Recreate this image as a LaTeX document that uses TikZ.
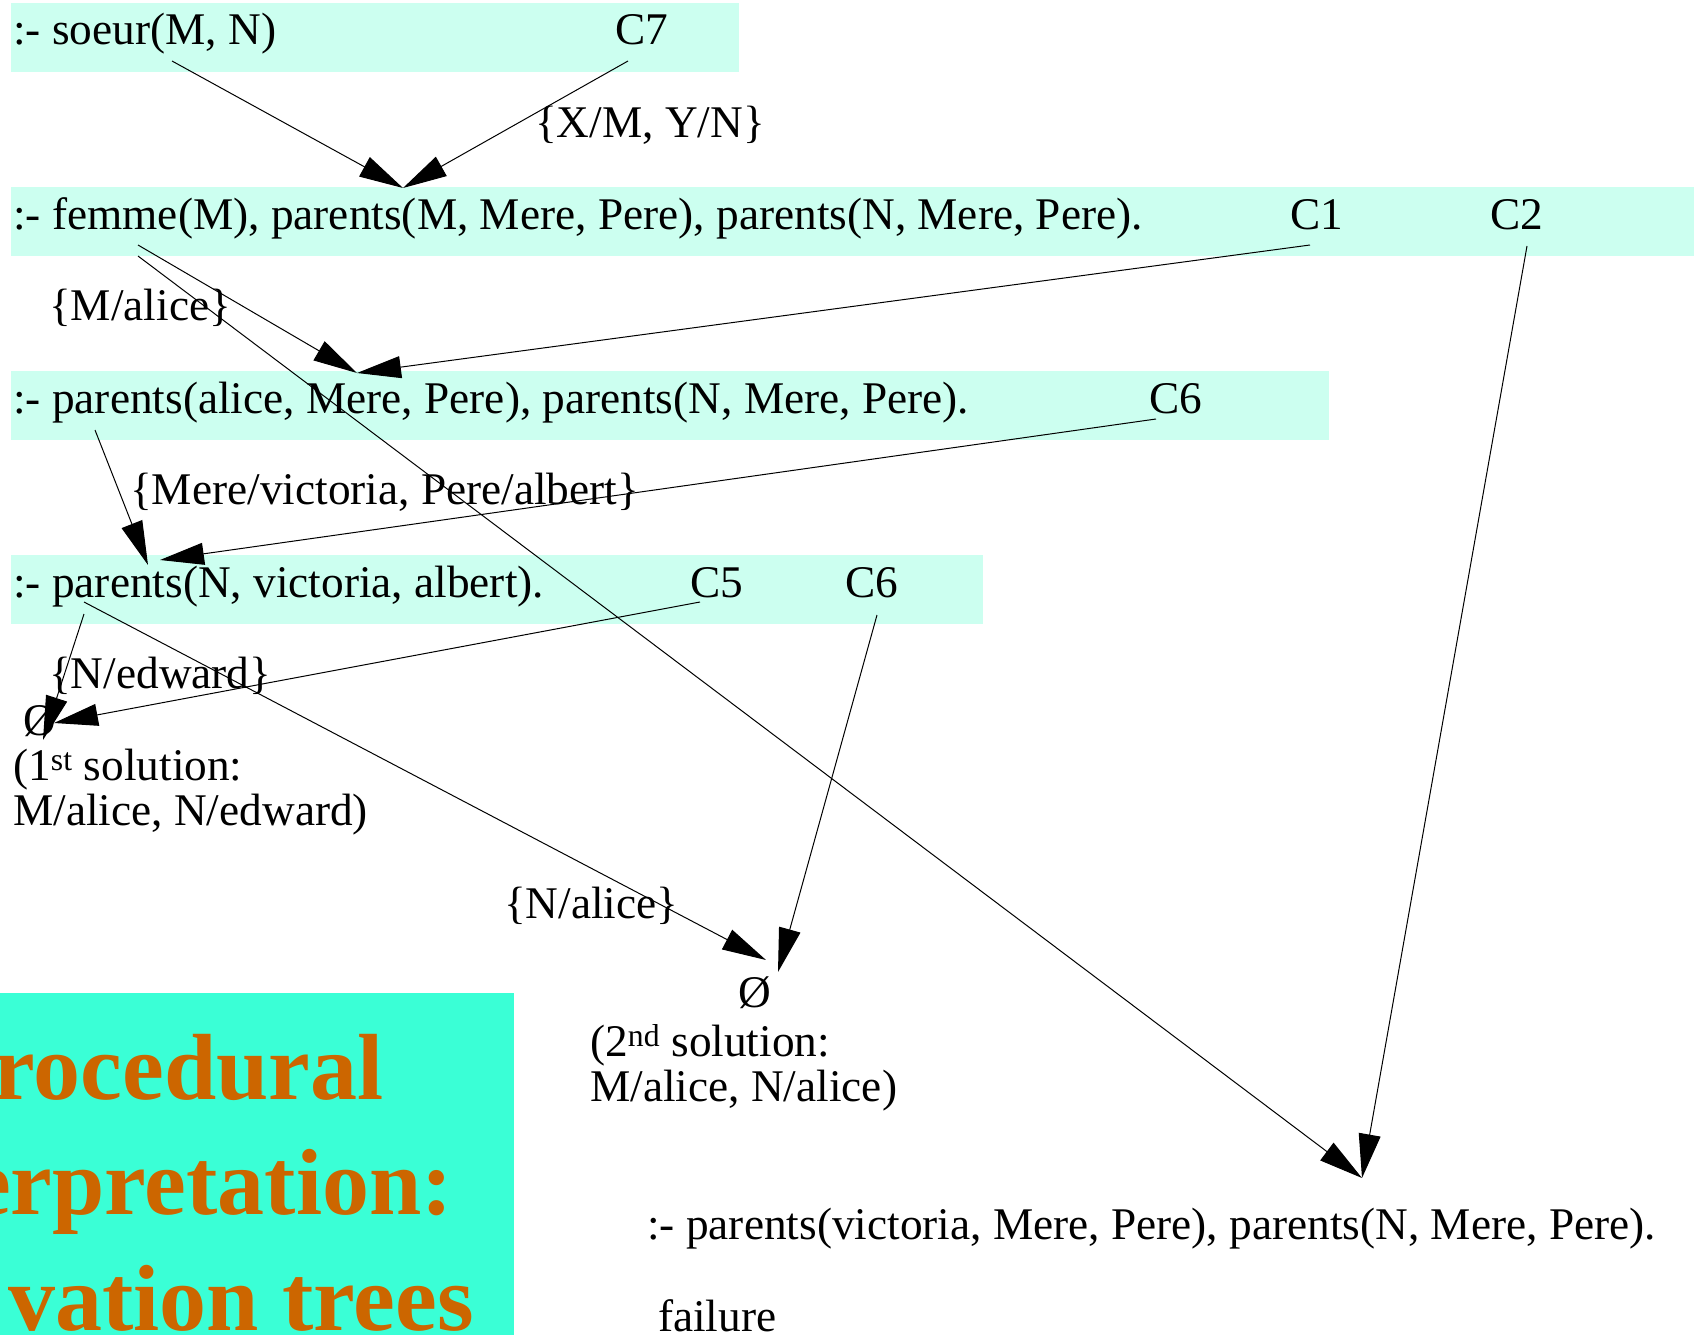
\documentclass[tikz,border=0pt]{standalone}
\usepackage{fontspec}
\setmainfont{Liberation Serif}
\usetikzlibrary{arrows.meta}
\tikzset{>={Triangle[length=44pt,width=22pt]}}
\definecolor{goalcyan}{RGB}{204,255,240}
\definecolor{titlecyan}{RGB}{58,255,214}
\definecolor{titleorange}{RGB}{204,102,0}

\begin{document}
\begin{tikzpicture}[x=1pt,y=-1pt,
  txt/.style={anchor=base west,inner sep=0pt,font=\fontsize{45.3}{45}\selectfont},
  ttl/.style={anchor=base east,inner sep=0pt,text=titleorange,font=\fontsize{94}{94}\selectfont\bfseries}]
\useasboundingbox (0,0) rectangle (1697,1335);
\foreach \y/\w in {3/739,187/1694,371/1329,555/983}
\fill[goalcyan] (11,\y) rectangle (\w,\y+69);
\fill[titlecyan] (0,993) rectangle (514,1335);
\node[txt] (g1) at (13,45) {:- soeur(M, N)};
\node[txt] (c7) at (615,45) {C7};
\node[txt] (g2) at (13,229) {:- femme(M), parents(M, Mere, Pere), parents(N, Mere, Pere).};
\node[txt] (c1) at (1290,229) {C1};
\node[txt] (c2) at (1490,229) {C2};
\node[txt] (g3) at (13,413) {:- parents(alice, Mere, Pere), parents(N, Mere, Pere).};
\node[txt] (c6a) at (1149,413) {C6};
\node[txt] (g4) at (13,597) {:- parents(N, victoria, albert).};
\node[txt] (c5) at (690,597) {C5};
\node[txt] (c6b) at (845,597) {C6};
\node[txt] (l1) at (535,138) {\{X/M, Y/N\}};
\node[txt] (l2) at (49,320) {\{M/alice\}};
\node[txt] (l3) at (130,504) {\{Mere/victoria, Pere/albert\}};
\node[txt] (l4) at (49,688) {\{N/edward\}};
\node[txt] (l5) at (504,918) {\{N/alice\}};
\node[txt] (e1) at (23,735) {Ø};
\node[txt,align=left] (s1) at (13,825) {(1\textsuperscript{st} solution:\\M/alice, N/edward)};
\node[txt] (e2) at (738,1007) {Ø};
\node[txt,align=left] (s2) at (590,1101) {(2\textsuperscript{nd} solution:\\M/alice, N/alice)};
\node[txt] (g5) at (647,1239) {:- parents(victoria, Mere, Pere), parents(N, Mere, Pere).};
\node[txt] (fl) at (658,1331) {failure};
\coordinate (g1o) at (172,61);
\coordinate (c7o) at (628,61);
\coordinate (g2i) at (403,188);
\coordinate (g2o) at (138,245);
\coordinate (g2f) at (138,256);
\coordinate (c1o) at (1310,245);
\coordinate (c2o) at (1527,246);
\coordinate (g3i) at (357,373);
\coordinate (g3o) at (95,430);
\coordinate (c6o) at (1156,419);
\coordinate (g4i) at (148,565);
\coordinate (g4j) at (160,560);
\coordinate (g4o) at (84,614);
\coordinate (g4f) at (84,602);
\coordinate (c5o) at (700,602);
\coordinate (c6p) at (877,615);
\coordinate (e1i) at (43,740);
\coordinate (e1j) at (54,723);
\coordinate (e2i) at (766,960);
\coordinate (e2j) at (778,972);
\coordinate (g5i) at (1362,1178);
\foreach \a/\b in {g1o/g2i,c7o/g2i,g2o/g3i,c1o/g3i,g2f/g5i,c2o/g5i,g3o/g4i,c6o/g4j,g4o/e1i,c5o/e1j,g4f/e2i,c6p/e2j}
\draw[->,line width=1pt] (\a) -- (\b);
\begin{scope}
\clip (0,993) rectangle (514,1335);
\node[ttl] (t1) at (384,1099) {rocedural};
\node[ttl] (t2) at (453,1214) {erpretation:};
\node[ttl] (t3) at (474,1330) {vation trees};
\end{scope}
\end{tikzpicture}
\end{document}
